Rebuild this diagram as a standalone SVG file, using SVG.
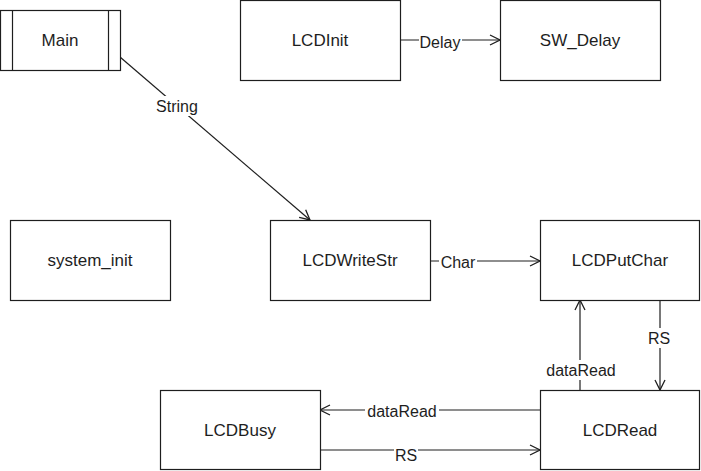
<svg xmlns="http://www.w3.org/2000/svg" width="701" height="471" viewBox="0 0 701 471">
<defs>
<style>
.box{fill:#fff;stroke:#1e1e1e;stroke-width:1.2}
.t{font-family:"Liberation Sans","DejaVu Sans",sans-serif;font-size:17px;fill:#1e1e1e;text-anchor:middle;dominant-baseline:central}
.e{fill:none;stroke:#1e1e1e;stroke-width:1.2;marker-end:url(#ah)}
.lb{fill:#fff}
.l{font-family:"Liberation Sans","DejaVu Sans",sans-serif;font-size:16px;fill:#1e1e1e;text-anchor:middle;dominant-baseline:central}
</style>
<marker id="ah" viewBox="0 0 12 12" refX="11" refY="6" markerWidth="12" markerHeight="12" markerUnits="userSpaceOnUse" orient="auto">
<path d="M1 1 L11 6 L1 11" fill="none" stroke="#1e1e1e" stroke-width="1.3"/>
</marker>
</defs>
<rect width="701" height="471" fill="#fff"/>
<g id="connectors">
<line class="e" x1="120" y1="57" x2="310" y2="220"/>
<line class="e" x1="400" y1="40" x2="500" y2="40"/>
<line class="e" x1="430" y1="261" x2="540" y2="261"/>
<line class="e" x1="660" y1="300" x2="660" y2="390"/>
<line class="e" x1="580" y1="390" x2="580" y2="300"/>
<line class="e" x1="540" y1="410" x2="320" y2="410"/>
<line class="e" x1="320" y1="450" x2="540" y2="450"/>
<rect class="lb" x="152" y="96" width="50" height="20"/><text class="l" x="177" y="106">String</text>
<rect class="lb" x="419" y="32" width="43" height="20"/><text class="l" x="440" y="42">Delay</text>
<rect class="lb" x="439" y="252" width="38" height="20"/><text class="l" x="458" y="262">Char</text>
<rect class="lb" x="647" y="328" width="24" height="20"/><text class="l" x="659" y="338">RS</text>
<rect class="lb" x="544" y="360" width="74" height="20"/><text class="l" x="581" y="370">dataRead</text>
<rect class="lb" x="365" y="401" width="74" height="20"/><text class="l" x="402" y="411">dataRead</text>
<rect class="lb" x="394" y="445" width="24" height="20"/><text class="l" x="406" y="455">RS</text>
</g>
<g id="Main"><rect class="box" x="0.5" y="10.5" width="120" height="60"/><line class="box" x1="12.5" y1="10.5" x2="12.5" y2="70.5"/><line class="box" x1="108.5" y1="10.5" x2="108.5" y2="70.5"/><text class="t" x="60" y="40">Main</text></g>
<g id="LCDInit"><rect class="box" x="240.5" y="0.5" width="160" height="80"/><text class="t" x="320" y="40">LCDInit</text></g>
<g id="SW_Delay"><rect class="box" x="500.5" y="0.5" width="160" height="80"/><text class="t" x="580" y="40">SW_Delay</text></g>
<g id="system_init"><rect class="box" x="10.5" y="220.5" width="160" height="80"/><text class="t" x="90" y="260">system_init</text></g>
<g id="LCDWriteStr"><rect class="box" x="270.5" y="220.5" width="160" height="80"/><text class="t" x="350" y="260">LCDWriteStr</text></g>
<g id="LCDPutChar"><rect class="box" x="540.5" y="220.5" width="159" height="80"/><text class="t" x="620" y="260">LCDPutChar</text></g>
<g id="LCDBusy"><rect class="box" x="160.5" y="390.5" width="160" height="79"/><text class="t" x="240" y="430">LCDBusy</text></g>
<g id="LCDRead"><rect class="box" x="540.5" y="390.5" width="159" height="79"/><text class="t" x="620" y="430">LCDRead</text></g>
</svg>
